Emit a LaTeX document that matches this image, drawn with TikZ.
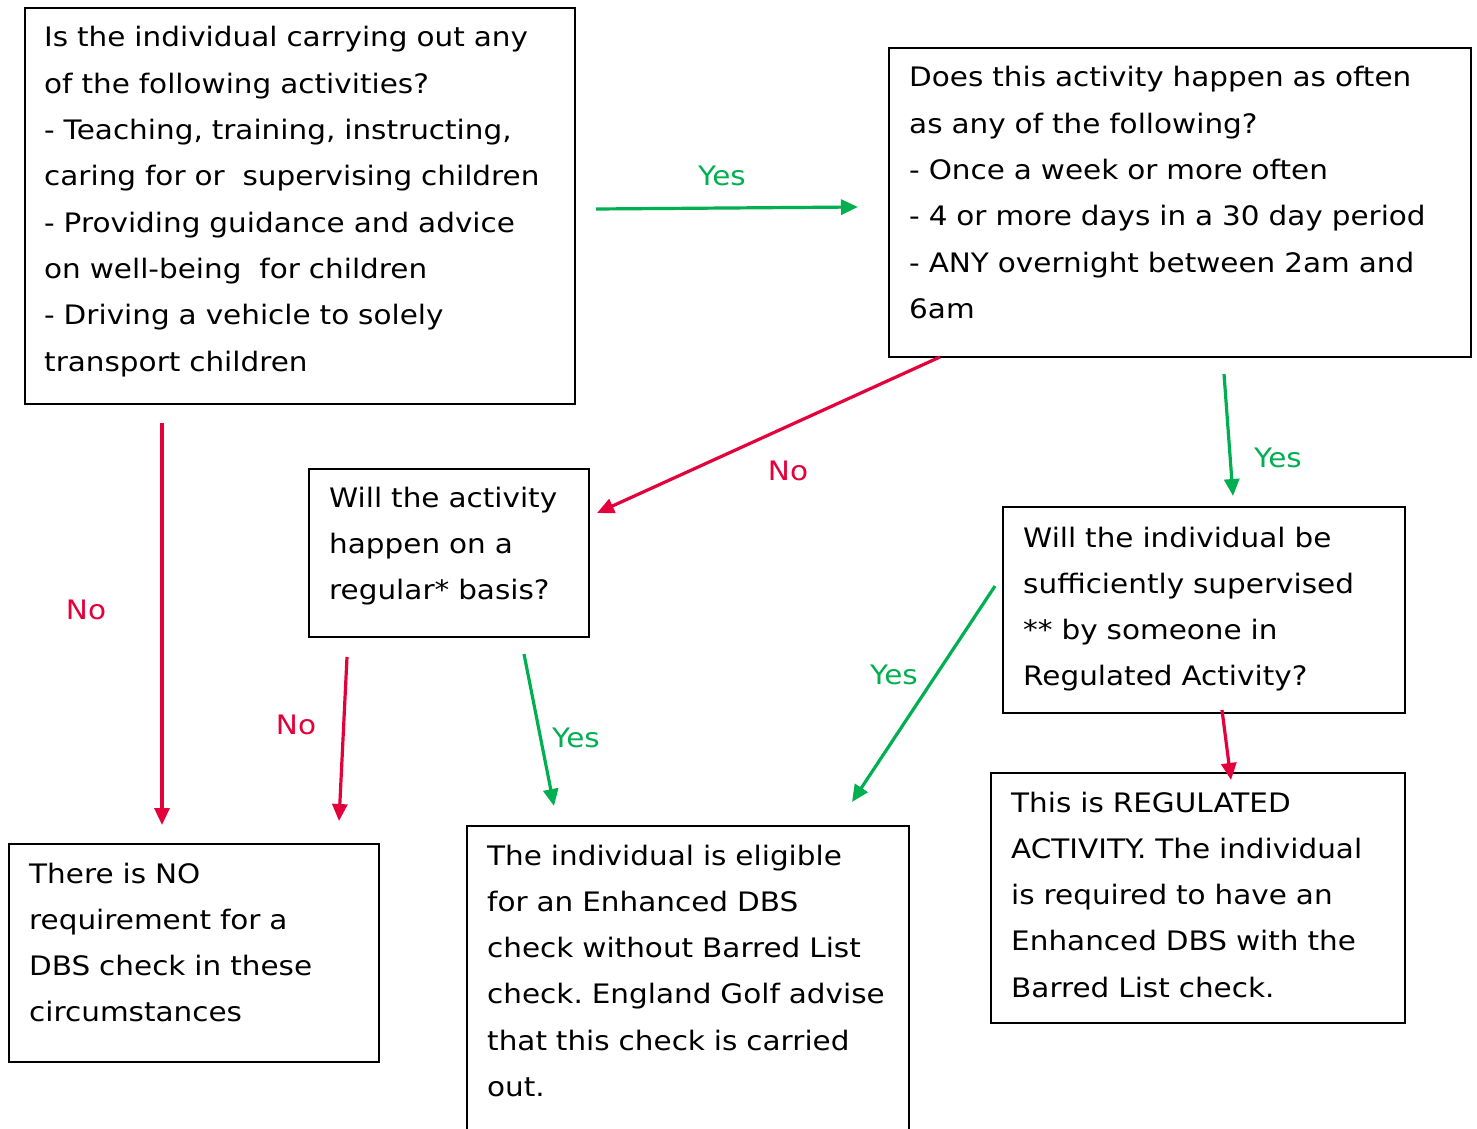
\documentclass[tikz,border=0pt]{standalone}
\usepackage{fontspec}
\setmainfont{DejaVu Sans}[FakeStretch=1.1]
\usetikzlibrary{arrows.meta}
\definecolor{yesgreen}{RGB}{0,176,80}
\definecolor{nored}{RGB}{228,0,58}
\tikzset{
  box/.style={draw=black, line width=2pt, anchor=north west, inner sep=0pt},
  txt/.style={anchor=base west, inner sep=0pt, align=left, text width=600pt,
    font=\fontsize{26.8}{46.3}\selectfont},
  yesarrow/.style={draw=yesgreen, line width=3.2pt, -{Triangle[length=17pt,width=15pt]}},
  noarrow/.style={draw=nored, line width=3.2pt, -{Triangle[length=17pt,width=15pt]}},
  yeslbl/.style={text=yesgreen, font=\fontsize{26.8}{32}\selectfont, inner sep=0pt},
  nolbl/.style={text=nored, font=\fontsize{26.8}{32}\selectfont, inner sep=0pt},
}
\begin{document}
\frenchspacing
\begin{tikzpicture}[x=1pt,y=-1pt]
\useasboundingbox (0,0) rectangle (1477,1129);
% boxes
\node[box, minimum width=550pt, minimum height=396pt] (b1) at (24,7) {};
\node[box, minimum width=582pt, minimum height=309pt] (b2) at (888,47) {};
\node[box, minimum width=280pt, minimum height=168pt] (b3) at (308,468) {};
\node[box, minimum width=402pt, minimum height=206pt] (b4) at (1002,506) {};
\node[box, minimum width=370pt, minimum height=218pt] (b5) at (8,843) {};
\node[box, minimum width=442pt, minimum height=330pt] (b6) at (466,825) {};
\node[box, minimum width=414pt, minimum height=250pt] (b7) at (990,772) {};
% texts
\node[txt] (t1) at (44,47) {Is the individual carrying out any\\of the following activities?\\- Teaching, training, instructing,\\caring for or\ \ supervising children\\- Providing guidance and advice\\on well-being\ \ for children\\- Driving a vehicle to solely\\transport children};
\node[txt] (t2) at (909,87) {Does this activity happen as often\\as any of the following?\\- Once a week or more often\\- 4 or more days in a 30 day period\\- ANY overnight between 2am and\\6am};
\node[txt] (t3) at (329,507) {Will the activity\\happen on a\\regular* basis?};
\node[txt] (t4) at (1023,547) {Will the individual be\\sufficiently supervised\\\relax** by someone in\\Regulated Activity?};
\node[txt] (t5) at (29,883) {There is NO\\requirement for a\\DBS check in these\\circumstances};
\node[txt] (t6) at (487,865) {The individual is eligible\\for an Enhanced DBS\\check without Barred List\\check. England Golf advise\\that this check is carried\\out.};
\node[txt] (t7) at (1011,812) {This is REGULATED\\ACTIVITY. The individual\\is required to have an\\Enhanced DBS with the\\Barred List check.};
% connector end points
\coordinate (a1s) at (596,209); \coordinate (a1e) at (858,207);
\coordinate (a2s) at (940,357); \coordinate (a2e) at (597,513);
\coordinate (a3s) at (1224,374); \coordinate (a3e) at (1233,496);
\coordinate (a4s) at (162,423); \coordinate (a4e) at (162,825);
\coordinate (a5s) at (347,657); \coordinate (a5e) at (339,821);
\coordinate (a6s) at (524,654); \coordinate (a6e) at (554,806);
\coordinate (a7s) at (995,586); \coordinate (a7e) at (852,802);
\coordinate (a8s) at (1222,710); \coordinate (a8e) at (1231,780);
% connectors
\draw[yesarrow] (a1s) -- (a1e);
\draw[noarrow] (a2s) -- (a2e);
\draw[yesarrow] (a3s) -- (a3e);
\draw[noarrow] (a4s) -- (a4e);
\draw[noarrow] (a5s) -- (a5e);
\draw[yesarrow] (a6s) -- (a6e);
\draw[yesarrow] (a7s) -- (a7e);
\draw[noarrow] (a8s) -- (a8e);
% labels
\node[yeslbl] (l1) at (722,176) {Yes};
\node[nolbl] (l2) at (788,471) {No};
\node[yeslbl] (l3) at (1278,458) {Yes};
\node[nolbl] (l4) at (86,610) {No};
\node[nolbl] (l5) at (296,725) {No};
\node[yeslbl] (l6) at (576,738) {Yes};
\node[yeslbl] (l7) at (894,675) {Yes};
\end{tikzpicture}
\end{document}
